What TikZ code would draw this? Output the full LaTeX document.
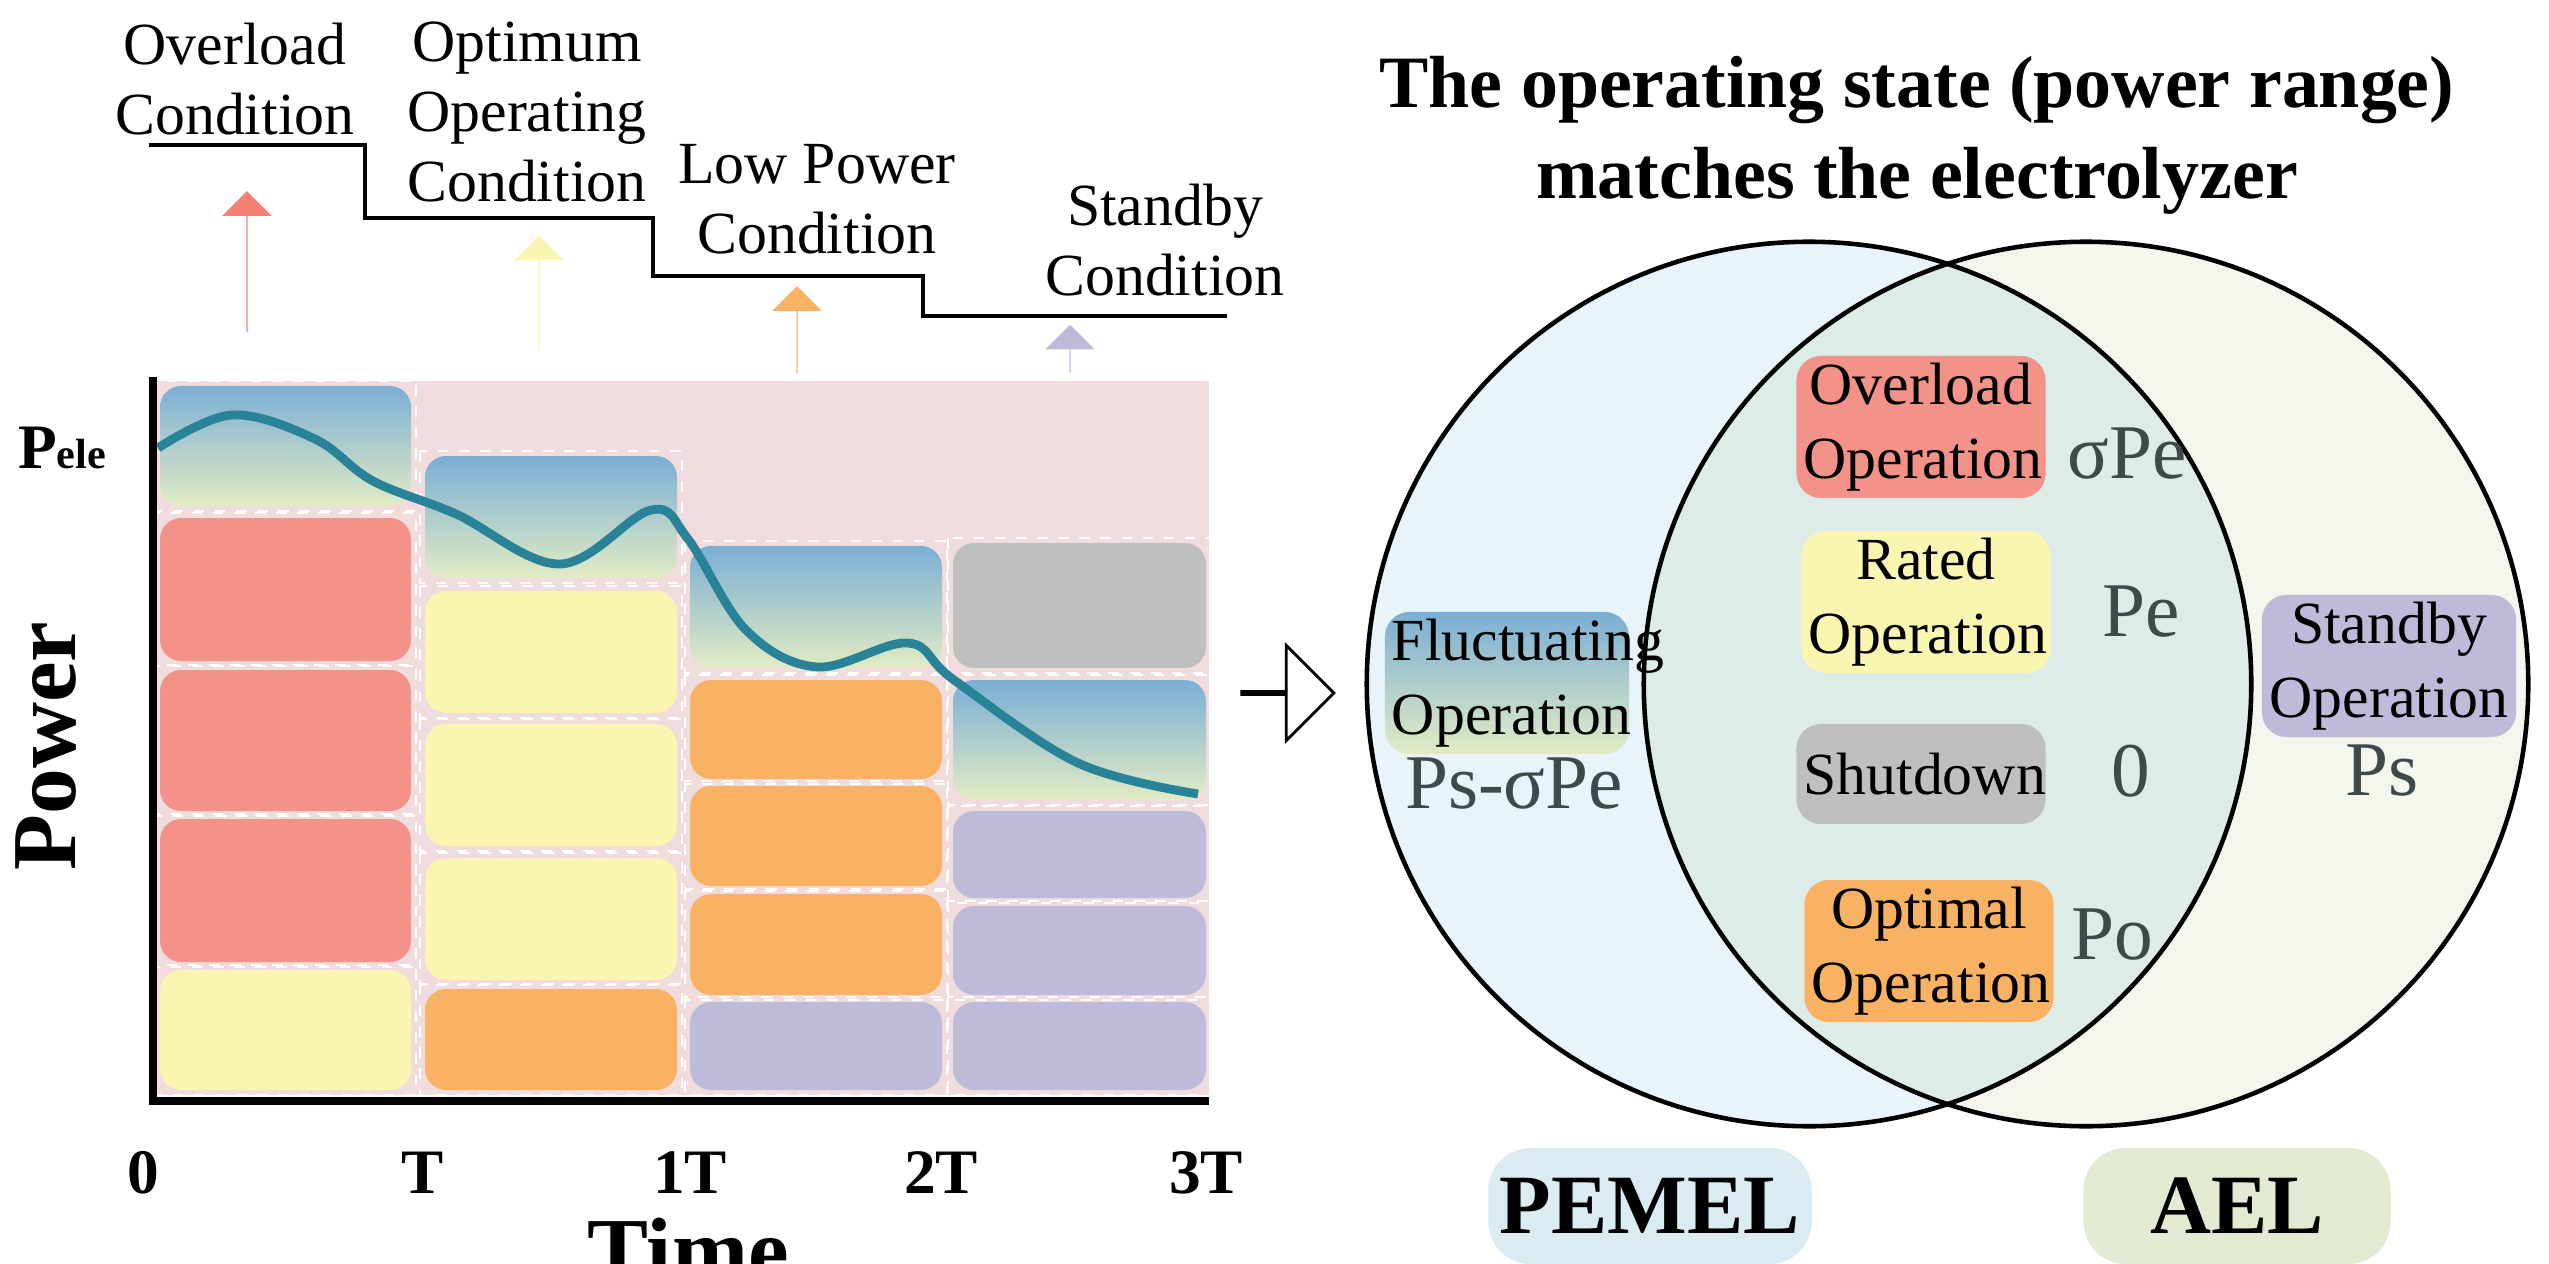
\documentclass[tikz,border=0pt]{standalone}
\usepackage{fontspec}
\setmainfont{Liberation Serif}
\usepackage{tikz}
\usetikzlibrary{shapes,arrows,positioning,fit}
\definecolor{colorR}{RGB}{243,146,136}
\definecolor{colorRa}{RGB}{244,128,116}
\definecolor{colorY}{RGB}{250,246,178}
\definecolor{colorO}{RGB}{249,178,100}
\definecolor{colorP}{RGB}{190,186,218}
\definecolor{colorGy}{RGB}{191,191,191}
\definecolor{colorBg}{RGB}{240,220,220}
\definecolor{colorTop}{RGB}{122,174,212}
\definecolor{colorBot}{RGB}{226,236,196}
\definecolor{colorCurve}{RGB}{40,130,152}
\definecolor{colorVal}{RGB}{62,74,74}
\definecolor{colorPem}{RGB}{232,244,249}
\definecolor{colorAel}{RGB}{243,246,236}
\definecolor{colorMid}{RGB}{222,236,232}
\definecolor{colorPemB}{RGB}{218,236,242}
\definecolor{colorAelB}{RGB}{226,234,210}
\tikzstyle{cell}=[rounded corners=6pt]
\tikzstyle{boxR}=[cell, fill=colorR]
\tikzstyle{boxY}=[cell, fill=colorY]
\tikzstyle{boxO}=[cell, fill=colorO]
\tikzstyle{boxP}=[cell, fill=colorP]
\tikzstyle{boxG}=[cell, fill=colorGy]
\tikzstyle{grad}=[cell, top color=colorTop, bottom color=colorBot]
\tikzstyle{gap}=[draw=white, thick, dashed]
\tikzstyle{cond}=[font=\fontsize{17}{20}\selectfont, align=center]
\tikzstyle{up}=[single arrow, single arrow head extend=0.24cm, shape border rotate=90, inner sep=0, minimum width=0.48cm]
\tikzstyle{op}=[rounded corners=7pt, font=\fontsize{17}{21}\selectfont, align=center, inner sep=2pt, text width=2.35cm, minimum height=1.2cm]
\tikzstyle{val}=[font=\fontsize{22}{24}\selectfont, text=colorVal]
\tikzstyle{tick}=[font=\fontsize{18}{20}\selectfont\bfseries]
\newcommand{\cellrow}[5]{% x1, x2, y1, y2, style
  \path[#5] (#1,#3) rectangle (#2,#4);
  \draw[gap] (#1-5,#3-5) rectangle (#2+5,#4+5);
}

\begin{document}
\begin{tikzpicture}[x=0.01cm,y=-0.01cm]
\useasboundingbox (0,0) rectangle (2549,1264);

% left: power over time
\fill[colorBg] (157,381) rectangle (1209,1095);
\foreach \ya/\yb/\st in {386/506/grad,518/661/boxR,670/811/boxR,819/962/boxR,970/1090/boxY}
  {\cellrow{160}{411}{\ya}{\yb}{\st}}
\foreach \ya/\yb/\st in {456/578/grad,591/713/boxY,724/846/boxY,858/980/boxY,989/1090/boxO}
  {\cellrow{425}{677}{\ya}{\yb}{\st}}
\foreach \ya/\yb/\st in {546/668/grad,680/779/boxO,786/886/boxO,894/995/boxO,1002/1090/boxP}
  {\cellrow{690}{942}{\ya}{\yb}{\st}}
\foreach \ya/\yb/\st in {543/668/boxG,680/800/grad,811/898/boxP,906/995/boxP,1002/1090/boxP}
  {\cellrow{953}{1206}{\ya}{\yb}{\st}}

\draw[line width=2.5pt, colorCurve] plot[smooth, tension=0.6] coordinates
  {(158,448) (232,415) (315,439) (373,481) (456,514) (560,564) (651,510) (688,539) (746,630) (817,667) (908,643) (954,680) (1078,763) (1198,794)};

\draw[line width=2.2pt] (153,377) -- (153,1101) -- (1209,1101);
\node (pele) at (62,448) {\fontsize{18}{20}\selectfont\bfseries P\fontsize{12}{14}\selectfont ele};
\node (power) [rotate=90] at (46,746) {\fontsize{26}{28}\selectfont\bfseries Power};
\node[tick] (t0) at (143,1173) {0};
\node[tick] (t1) at (423,1173) {T};
\node[tick] (t2) at (690,1173) {1T};
\node[tick] (t3) at (941,1173) {2T};
\node[tick] (t4) at (1206,1173) {3T};
\node (time) at (688,1250) {\fontsize{26}{28}\selectfont\bfseries Time};

% conditions
\draw[line width=1.3pt] (149,145) -- (365,145) -- (365,218) -- (653,218) -- (653,276) -- (923,276) -- (923,316) -- (1227,316);
\node[cond] (cOver) at (235,79) {Overload\\Condition};
\node[cond] (cOpt) at (527,112) {Optimum\\Operating\\Condition};
\node[cond] (cLow) at (817,199) {Low Power\\Condition};
\node[cond] (cStb) at (1165,240) {Standby\\Condition};
\node[up, fill=colorRa, minimum height=1.41cm] (aOver) at (247,262) {};
\node[up, fill=colorY, minimum height=1.14cm] (aOpt) at (539,293) {};
\node[up, fill=colorO, minimum height=0.87cm] (aLow) at (797,330) {};
\node[up, fill=colorP, minimum height=0.48cm] (aStb) at (1070,349) {};

% hollow arrow
\node[single arrow, draw, thick, minimum width=0.95cm, single arrow head extend=0.45cm, minimum height=0.92cm, inner sep=0] (go) at (1287,693) {};

% right: venn
\node (title) at (1917,135) {\fontsize{21}{26}\selectfont\bfseries\begin{tabular}{c}The operating state (power range)\\matches the electrolyzer\end{tabular}};
\fill[colorPem] (1809,684) circle (4.42cm);
\fill[colorAel] (2086,684) circle (4.42cm);
\begin{scope}
  \clip (1809,684) circle (4.42cm);
  \fill[colorMid] (2086,684) circle (4.42cm);
\end{scope}
\draw[line width=1.3pt] (1809,684) circle (4.42cm);
\draw[line width=1.3pt] (2086,684) circle (4.42cm);

\node[op, fill=colorR] (oOver) at (1921,427) {Overload\\Operation};
\node[op, fill=colorY] (oRated) at (1926,602) {Rated\\Operation};
\node[op, fill=colorGy, minimum height=1cm] (oShut) at (1921,774) {Shutdown};
\node[op, fill=colorO] (oOpt) at (1929,951) {Optimal\\Operation};
\node[op, top color=colorTop, bottom color=colorBot, text width=2.3cm] (oFluc) at (1507,683) {Fluctuating\\Operation};
\node[op, fill=colorP, text width=2.4cm, minimum height=1.08cm] (oStb) at (2389,666) {Standby\\Operation};
\node[val] (vOver) at (2127,454) {σPe};
\node[val] (vRated) at (2141,612) {Pe};
\node[val] (vShut) at (2131,771) {0};
\node[val] (vOpt) at (2112,935) {Po};
\node[val] (vFluc) at (1514,784) {Ps-σPe};
\node[val] (vStb) at (2382,771) {Ps};

\node[fill=colorPemB, rounded corners=12pt, minimum width=3.06cm, minimum height=1.16cm, font=\fontsize{24}{26}\selectfont\bfseries] (pemel) at (1650,1206) {PEMEL};
\node[fill=colorAelB, rounded corners=12pt, minimum width=3.07cm, minimum height=1.16cm, font=\fontsize{24}{26}\selectfont\bfseries] (ael) at (2237,1206) {AEL};

\end{tikzpicture}
\end{document}
